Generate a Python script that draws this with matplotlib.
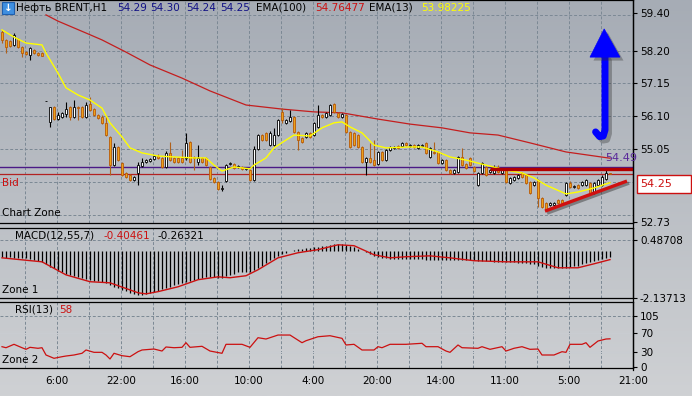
import numpy as np
import matplotlib
matplotlib.use("Agg")
import matplotlib.pyplot as plt
from matplotlib.colors import LinearSegmentedColormap
from matplotlib.patches import Rectangle, Polygon
from matplotlib.lines import Line2D
import matplotlib.patheffects as pe

# ===========================================
# données (Brent H1)
# ===========================================

opens = [58.79, 58.54, 58.51, 58.38, 58.57, 58.31, 58.15, 58.06, 58.22, 58.12,
         58.12, 56.59, 55.92, 56.40, 56.01, 56.08, 56.17, 56.40, 56.08, 56.40,
         56.40, 56.08, 56.49, 56.33, 56.14, 56.08, 55.89, 55.44, 54.54, 55.12,
         54.61, 54.29, 54.22, 54.06, 54.29, 54.51, 54.64, 54.67, 54.73, 54.83,
         54.77, 54.48, 54.93, 54.77, 54.77, 54.77, 54.77, 55.28, 54.80, 54.64,
         54.77, 54.77, 54.48, 54.13, 54.00, 53.78, 54.03, 54.57, 54.57, 54.48,
         54.48, 54.42, 54.38, 54.06, 55.05, 55.50, 55.57, 55.18, 55.18, 55.50,
         56.24, 55.89, 55.95, 56.08, 55.60, 55.41, 55.44, 55.57, 55.50, 55.76,
         56.14, 56.08, 56.14, 56.49, 56.21, 56.08, 56.14, 55.60, 55.57, 55.50,
         55.12, 54.64, 54.77, 54.70, 54.57, 54.96, 54.70, 55.02, 55.09, 55.15,
         55.15, 55.25, 55.15, 55.18, 55.09, 55.15, 55.25, 54.80, 54.96, 54.96,
         54.61, 54.70, 54.38, 54.29, 54.32, 54.80, 54.57, 54.77, 54.48, 53.90,
         54.29, 54.48, 54.32, 54.29, 54.38, 54.29, 54.38, 53.97, 54.06, 54.13,
         54.29, 54.22, 54.00, 53.90, 54.06, 53.49, 53.33, 53.27, 53.27, 53.42,
         53.42, 53.58, 53.97, 53.84, 53.90, 53.90, 53.90, 53.97, 53.65, 53.90,
         53.90, 54.10, 54.29]
highs = [58.86, 58.57, 58.54, 58.76, 58.60, 58.35, 58.19, 58.31, 58.25, 58.15,
         58.15, 56.59, 56.40, 56.43, 56.24, 56.24, 56.56, 56.43, 56.62, 56.43,
         56.43, 56.56, 56.71, 56.36, 56.17, 56.14, 56.14, 55.47, 55.25, 55.15,
         54.64, 54.32, 54.26, 54.19, 54.64, 54.77, 54.73, 54.77, 54.86, 54.89,
         54.80, 54.99, 55.28, 54.80, 54.80, 55.02, 55.57, 55.31, 54.83, 55.18,
         54.80, 54.80, 54.51, 54.16, 54.03, 53.90, 54.57, 54.64, 54.61, 54.54,
         54.51, 54.45, 54.42, 55.15, 55.53, 55.53, 55.60, 55.63, 55.73, 56.01,
         56.36, 56.01, 56.30, 56.11, 55.63, 55.44, 55.60, 55.60, 55.92, 56.46,
         56.17, 56.24, 56.49, 56.52, 56.24, 56.21, 56.17, 55.63, 55.60, 55.53,
         55.15, 54.80, 55.25, 55.34, 54.99, 54.99, 55.05, 55.15, 55.15, 55.18,
         55.28, 55.28, 55.21, 55.21, 55.21, 55.21, 55.28, 55.12, 55.28, 54.99,
         54.73, 54.73, 54.42, 54.42, 54.83, 55.09, 54.61, 54.80, 54.51, 54.32,
         54.64, 54.51, 54.42, 54.54, 54.54, 54.45, 54.42, 54.16, 54.19, 54.26,
         54.32, 54.26, 54.03, 54.03, 54.10, 53.52, 53.36, 53.36, 53.36, 53.46,
         53.46, 54.00, 54.03, 53.90, 53.94, 54.03, 54.10, 54.00, 54.00, 54.10,
         54.22, 54.38, 54.30]
lows = [58.44, 58.12, 58.31, 58.35, 58.28, 57.99, 58.06, 57.90, 58.09, 58.03,
        58.03, 56.59, 55.76, 55.98, 55.98, 56.05, 56.08, 55.98, 56.05, 55.98,
        56.05, 56.05, 56.27, 56.11, 56.01, 55.85, 55.47, 54.22, 54.51, 54.67,
        54.19, 54.13, 54.03, 54.03, 53.90, 54.48, 54.61, 54.64, 54.70, 54.73,
        54.45, 54.45, 54.67, 54.61, 54.61, 54.61, 54.70, 54.61, 54.38, 54.54,
        54.61, 54.51, 54.06, 53.97, 53.74, 53.71, 54.00, 54.54, 54.42, 54.45,
        54.38, 54.38, 54.03, 54.03, 55.02, 55.31, 55.31, 55.15, 55.15, 55.47,
        55.89, 55.85, 55.92, 55.57, 55.02, 55.25, 55.41, 55.41, 55.47, 55.73,
        56.05, 56.05, 56.11, 56.21, 56.05, 56.05, 55.57, 55.09, 55.15, 55.09,
        54.61, 54.22, 54.61, 54.51, 54.54, 54.67, 54.67, 54.99, 55.05, 55.05,
        55.12, 55.15, 55.12, 55.09, 55.05, 55.12, 54.89, 54.77, 54.89, 54.57,
        54.57, 54.35, 54.26, 54.26, 54.29, 54.51, 54.42, 54.51, 54.32, 53.87,
        54.26, 54.19, 54.29, 54.26, 54.29, 54.26, 53.97, 53.94, 54.03, 54.10,
        54.13, 53.94, 53.62, 53.87, 53.20, 53.17, 53.07, 53.23, 53.23, 53.30,
        53.30, 53.55, 53.81, 53.81, 53.78, 53.87, 53.87, 53.62, 53.62, 53.87,
        53.87, 54.06, 54.24]
closes = [58.54, 58.31, 58.35, 58.70, 58.31, 58.12, 58.09, 58.28, 58.12, 58.06,
          58.03, 56.59, 56.40, 56.01, 56.14, 56.21, 56.33, 56.08, 56.40, 56.36,
          56.08, 56.46, 56.30, 56.14, 56.05, 55.89, 55.50, 54.54, 55.12, 54.70,
          54.22, 54.16, 54.06, 54.16, 54.54, 54.64, 54.70, 54.73, 54.83, 54.77,
          54.48, 54.93, 54.70, 54.64, 54.64, 54.64, 55.25, 54.64, 54.77, 54.77,
          54.64, 54.54, 54.10, 54.00, 53.78, 53.81, 54.54, 54.61, 54.45, 54.51,
          54.42, 54.45, 54.06, 55.05, 55.50, 55.34, 55.34, 55.57, 55.50, 55.98,
          55.98, 55.98, 56.08, 55.60, 55.34, 55.28, 55.57, 55.44, 55.89, 56.14,
          56.08, 56.21, 56.46, 56.24, 56.08, 56.17, 55.60, 55.12, 55.18, 55.12,
          54.64, 54.77, 54.64, 54.54, 54.96, 54.70, 55.02, 55.12, 55.12, 55.09,
          55.25, 55.18, 55.18, 55.12, 55.18, 55.18, 54.93, 55.09, 54.93, 54.61,
          54.70, 54.38, 54.29, 54.38, 54.80, 54.54, 54.45, 54.54, 54.35, 54.29,
          54.61, 54.22, 54.38, 54.42, 54.32, 54.42, 54.00, 54.13, 54.16, 54.22,
          54.16, 53.97, 53.65, 54.00, 53.49, 53.20, 53.10, 53.33, 53.33, 53.33,
          53.33, 53.97, 53.84, 53.87, 53.81, 54.00, 54.06, 53.65, 53.97, 54.06,
          54.16, 54.29, 54.25]

# EMA lues point par point (indice de barre, prix)
ema100_idx = [11, 14, 21, 25, 31, 37, 45, 52, 61, 70, 78, 85, 94, 102, 110, 117, 124, 132, 141, 152]
ema100_val = [59.34, 59.14, 58.76, 58.54, 58.15, 57.74, 57.32, 56.91, 56.46, 56.33,
              56.24, 56.21, 56.01, 55.85, 55.73, 55.57, 55.50, 55.25, 54.96, 54.76]
ema13_idx = [0, 3, 6, 10, 11, 14, 16, 19, 22, 25, 27, 30, 32, 35, 39, 43, 48, 51, 53, 55,
             58, 62, 63, 66, 68, 71, 73, 77, 80, 83, 85, 87, 90, 93, 96, 102, 105, 109, 112, 116,
             121, 126, 130, 133, 136, 141, 144, 148, 152]
ema13_val = [58.86, 58.63, 58.44, 58.38, 58.12, 57.48, 57.01, 56.78, 56.62, 56.36,
             55.89, 55.44, 55.09, 54.93, 54.83, 54.80, 54.77, 54.77, 54.54, 54.35,
             54.48, 54.42, 54.54, 54.77, 55.09, 55.34, 55.50, 55.47, 55.73, 55.89,
             55.92, 55.76, 55.57, 55.18, 55.09, 55.12, 55.12, 54.96, 54.80, 54.70,
             54.54, 54.38, 54.29, 54.13, 53.90, 53.62, 53.68, 53.81, 53.98]

macd_hist = [-0.30, -0.31, -0.30, -0.32, -0.31, -0.32, -0.33, -0.36, -0.40, -0.46, -0.52,
             -0.62, -0.72, -0.80, -0.90, -0.97, -1.03, -1.09, -1.14, -1.19, -1.23,
             -1.27, -1.31, -1.35, -1.38, -1.42, -1.48, -1.55, -1.62, -1.70, -1.78,
             -1.84, -1.90, -1.95, -1.98, -1.99, -1.96, -1.91, -1.86, -1.80, -1.74,
             -1.68, -1.63, -1.56, -1.49, -1.44, -1.42, -1.39, -1.33, -1.26, -1.21,
             -1.18, -1.18, -1.20, -1.23, -1.21, -1.13, -1.08, -1.03, -0.98, -0.95,
             -0.95, -0.96, -0.88, -0.79, -0.68, -0.56, -0.43, -0.33, -0.25, -0.16,
             -0.08, -0.01, 0.04, 0.07, 0.09, 0.11, 0.13, 0.15, 0.18, 0.21,
             0.23, 0.26, 0.29, 0.31, 0.32, 0.28, 0.22, 0.15, 0.08, 0.01,
             -0.07, -0.15, -0.22, -0.28, -0.32, -0.34, -0.35,
             -0.36, -0.37, -0.37, -0.38, -0.38, -0.39, -0.39, -0.39, -0.40, -0.40,
             -0.40, -0.41, -0.41, -0.42, -0.42, -0.41, -0.41, -0.42, -0.42, -0.43,
             -0.44, -0.45, -0.46, -0.47, -0.48, -0.49, -0.50, -0.51,
             -0.52, -0.53, -0.53, -0.54, -0.54, -0.55, -0.58, -0.62, -0.67, -0.72,
             -0.76, -0.78, -0.79, -0.79, -0.78,
             -0.76, -0.74, -0.71, -0.67, -0.62, -0.57, -0.52, -0.46, -0.41, -0.36, -0.31, -0.26]
signal_idx = [0, 10, 16, 22, 27, 34, 36, 39, 44, 49, 54, 57, 61, 64, 69, 74, 79, 84, 88, 93,
              97, 101, 107, 112, 118, 126, 134, 139, 144, 148, 152]
signal_val = [-0.32, -0.50, -1.09, -1.40, -1.45, -1.90, -1.95, -1.85, -1.63, -1.31,
              -1.18, -1.22, -1.13, -0.86, -0.32, -0.09, 0.05, 0.27, 0.23, -0.18,
              -0.32, -0.27, -0.23, -0.32, -0.45, -0.50, -0.50, -0.77, -0.77, -0.59, -0.40]

rsi_idx = [0, 1, 3, 5, 6, 7, 9, 10, 11, 13, 15, 16, 18, 20, 21, 23, 25, 26, 27, 28,
           30, 32, 34, 35, 38, 40, 41, 43, 45, 46, 47, 50, 52, 55, 56, 60, 62, 64, 66, 69,
           72, 75, 76, 79, 82, 85, 86, 88, 90, 93, 94, 95, 97, 101, 105, 106, 109, 111, 112, 114,
           115, 119, 120, 122, 125, 126, 128, 130, 132, 134, 135, 138, 140, 141, 142, 145, 146, 147, 149, 151,
           152]
rsi_val = [41.8, 39.7, 46.7, 39.7, 36.4, 40.5, 38.5, 39.7, 24.7, 17.9,
           21.2, 22.6, 24.7, 28.2, 35.0, 30.2, 30.2, 24.7, 16.5, 28.2,
           23.3, 21.2, 31.5, 35.0, 37.0, 32.9, 41.2, 39.7, 40.5, 50.0,
           40.5, 42.6, 32.9, 28.2, 46.7, 46.7, 40.5, 60.3, 57.6, 65.8,
           65.8, 50.0, 54.1, 62.3, 64.4, 59.0, 45.3, 46.7, 35.0, 35.0,
           41.8, 39.7, 46.7, 46.7, 48.8, 41.8, 41.8, 32.9, 30.2, 45.3,
           39.7, 38.5, 41.8, 36.4, 41.8, 32.9, 38.5, 41.8, 36.4, 37.0,
           24.7, 24.7, 31.5, 30.2, 46.7, 46.7, 50.0, 40.5, 53.5, 57.6,
           58.0]

time_labels = ["6:00", "22:00", "16:00", "10:00", "4:00", "20:00", "14:00", "11:00", "5:00", "21:00"]
price_ticks = [59.40, 58.20, 57.15, 56.10, 55.05, 52.73]
price_grid = [59.35, 58.20, 57.15, 56.10, 55.05, 54.00, 52.95]
macd_ticks = [0.48708, -2.13713]
rsi_ticks = [105, 70, 30, 0]

symbol = "Нефть BRENT,H1"
ema100_last = 54.76477
ema13_last = 53.98225
macd_last = -0.40461
signal_last = -0.26321
rsi_last = 58
bid = 54.25
level = 54.49

# lignes dessinées à la main sur le graphique (barre, prix)
resist_line = ([122, 157.75], [54.43, 54.43])
support_line = ([135.75, 156.25], [53.07, 54.03])

# ===========================================
# figure
# ===========================================
plt.rcParams['font.family'] = ['DejaVu Sans']
plt.rcParams['font.size'] = 7.5

W, H = 692, 396
fig = plt.figure(figsize=(W / 100, H / 100), dpi=100)

def fx(px):
    return px / W

def fy(py):
    return 1 - py / H

# fond dégradé gris
bg = fig.add_axes([0, 0, 1, 1], zorder=-10)
cmap_bg = LinearSegmentedColormap.from_list("bg", ["#a6acb5", "#cfd1d4"])
bg.imshow(np.linspace(0, 1, 256).reshape(-1, 1), aspect="auto", cmap=cmap_bg, extent=[0, 1, 0, 1])
bg.axis("off")

GRID = "#7b8894"
XMAX = 157.75
n = len(closes)
idx = np.arange(n)

ax = fig.add_axes([0, fy(223), fx(633), 223 / H])
ax_macd = fig.add_axes([0, fy(298), fx(633), 70 / H])
ax_rsi = fig.add_axes([0, fy(368), fx(633), 66 / H])

def setup_panel(a, ylim, ticks, labels):
    a.set_facecolor("none")
    a.set_xlim(-0.5, XMAX)
    a.set_ylim(*ylim)
    a.spines["left"].set_visible(False)
    for s in ["top", "right", "bottom"]:
        a.spines[s].set_color("black")
        a.spines[s].set_linewidth(0.9)
    a.yaxis.tick_right()
    a.set_yticks(ticks)
    a.set_yticklabels(labels)
    a.tick_params(axis="y", direction="out", length=3, width=0.8, pad=2, labelsize=7.5)
    a.tick_params(axis="x", length=0, labelbottom=False)
    for g in np.arange(5.75, XMAX - 1, 8):
        a.axvline(g, color=GRID, ls=(0, (3, 2)), lw=0.7, zorder=0)

setup_panel(ax, (52.69, 59.815), price_ticks, [f"{t:.2f}" for t in price_ticks])
setup_panel(ax_macd, (-2.13713, 1.03), macd_ticks, [f"{t:.5f}" for t in macd_ticks])
setup_panel(ax_rsi, (-2.06, 133.8), rsi_ticks, [str(t) for t in rsi_ticks])

for p in price_grid:
    ax.axhline(p, color=GRID, ls=(0, (3, 2)), lw=0.7, zorder=0)
ax_macd.axhline(macd_ticks[0], color=GRID, ls=(0, (3, 2)), lw=0.7, zorder=0)
ax_rsi.axhline(105, color=GRID, ls=(0, (3, 2)), lw=0.7, zorder=0)
for lv in (70, 30):
    ax_rsi.axhline(lv, color="#c9ccd1", lw=0.8, zorder=0)

# niveaux horizontaux
ax.axhline(level, color="#4b1a86", lw=1.0, zorder=1)
ax.axhline(bid, color="#b22222", lw=0.9, zorder=1)

# EMA 100
ax.plot(ema100_idx, ema100_val, color="#c41e1e", lw=0.9, zorder=2)

# bougies
o = np.array(opens); h = np.array(highs); l = np.array(lows); c = np.array(closes)
bull = c >= o
bear = ~bull
ax.vlines(idx[bull], l[bull], h[bull], color="black", lw=0.8, zorder=3)
ax.vlines(idx[bear], l[bear], h[bear], color="#b0601a", lw=0.8, zorder=3)
body_h = np.maximum(np.abs(c - o), 0.012)
body_b = np.minimum(o, c)
ax.bar(idx[bull], body_h[bull], bottom=body_b[bull], width=0.7,
       color="white", edgecolor="black", lw=0.6, zorder=4)
ax.bar(idx[bear], body_h[bear], bottom=body_b[bear], width=0.7,
       color="#eda21a", edgecolor="#b85a08", lw=0.6, zorder=4)

# EMA 13
ax.plot(ema13_idx, ema13_val, color="#ffff00", lw=1.0, zorder=5)

# lignes de tendance
shadow = [pe.SimpleLineShadow(offset=(1.5, -1.5), shadow_color="#303030", alpha=0.45), pe.Normal()]
ax.plot(*resist_line, color="#b30000", lw=2.4, solid_capstyle="butt", zorder=6)
ax.plot(*support_line, color="#d01010", lw=2.4, solid_capstyle="butt", zorder=6, path_effects=shadow)

# flèche bleue
arrow_x = 150.75
ax.plot([arrow_x, arrow_x, 150.3, 149.4, 148.4], [57.99, 55.66, 55.47, 55.45, 55.60],
        color="#0000ff", lw=5, solid_capstyle="round", solid_joinstyle="round", zorder=7,
        path_effects=[pe.SimpleLineShadow(offset=(2.5, -2.5), shadow_color="#303030", alpha=0.35), pe.Normal()])
head = Polygon([[arrow_x - 3.75, 57.99], [arrow_x + 3.75, 57.99], [arrow_x - 0.2, 58.89]],
               closed=True, fc="#0000ff", ec="#0000ff", lw=0.5, zorder=8,
               path_effects=[pe.SimplePatchShadow(offset=(2.5, -2.5), shadow_rgbFace="#303030", alpha=0.35), pe.Normal()])
ax.add_patch(head)

# MACD
ax_macd.vlines(idx, 0, macd_hist, color="black", lw=0.9, zorder=2)
ax_macd.plot(signal_idx, signal_val, color="#cc1010", lw=1.0, zorder=3)

# RSI
ax_rsi.plot(rsi_idx, rsi_val, color="#cc1010", lw=0.9, zorder=3)
ax_rsi.set_xticks(13.75 + 16 * np.arange(len(time_labels)))
ax_rsi.set_xticklabels(time_labels)
ax_rsi.tick_params(axis="x", length=0, pad=6, labelbottom=True, labelsize=7.5)

# bordure droite continue
fig.add_artist(Line2D([fx(633), fx(633)], [fy(0), fy(370)], color="black", lw=0.9))

# textes d'en-tête
icon = Rectangle((fx(2), fy(14)), fx(12), 12 / H, transform=fig.transFigure,
                 fc="#3f8fe0", ec="#1f5fae", lw=0.8)
fig.add_artist(icon)
fig.text(fx(8), fy(8), "↓", color="white", fontsize=7.5, fontweight="bold", ha="center", va="center")
ty = fy(8)
fig.text(fx(16), ty, symbol, color="black", va="center")
for xp, v in zip([117, 150, 186, 220], [opens[-1], highs[-1], lows[-1], closes[-1]]):
    fig.text(fx(xp), ty, f"{v:.2f}", color="#101085", va="center")
fig.text(fx(256), ty, "EMA(100)", color="black", va="center")
fig.text(fx(315), ty, f"{ema100_last:.5f}", color="#cc1010", va="center")
fig.text(fx(369), ty, "EMA(13)", color="black", va="center")
fig.text(fx(421), ty, f"{ema13_last:.5f}", color="#ffff00", va="center")

fig.text(fx(2), fy(183), "Bid", color="#cc1010", va="center")
fig.text(fx(2), fy(213), "Chart Zone", color="black", va="center")
fig.text(fx(605), fy(158), f"{level:.2f}", color="#5a2a9a", fontsize=8, va="center")

fig.text(fx(15), fy(236), "MACD(12,55,7)", color="black", va="center")
fig.text(fx(104), fy(236), f"{macd_last:.5f}", color="#cc1010", va="center")
fig.text(fx(157), fy(236), f"{signal_last:.5f}", color="black", va="center")
fig.text(fx(2), fy(290), "Zone 1", color="black", va="center")

fig.text(fx(15), fy(310), "RSI(13)", color="black", va="center")
fig.text(fx(59), fy(310), str(rsi_last), color="#cc1010", va="center")
fig.text(fx(2), fy(360), "Zone 2", color="black", va="center")

# étiquette du prix Bid
box = Rectangle((fx(637), fy(193)), fx(54), 18 / H, transform=fig.transFigure,
                fc="white", ec="#cc1010", lw=1.0)
fig.add_artist(box)
fig.text(fx(640), fy(184), f"{bid:.2f}", color="#cc1010", fontsize=8, va="center")

fig.savefig("out.png", dpi=100)
